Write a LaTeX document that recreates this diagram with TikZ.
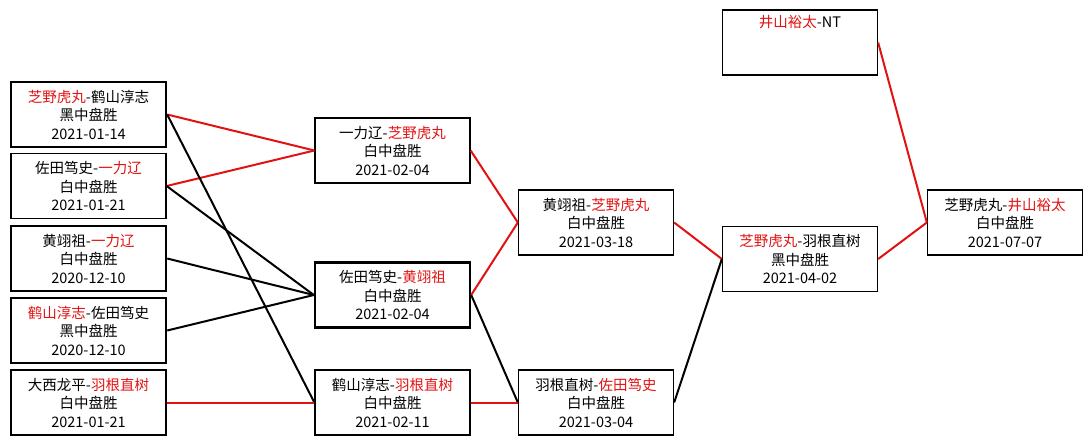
\documentclass[tikz,border=0pt]{standalone}
\usepackage{fontspec}
\setmainfont{Noto Sans CJK SC}
\usepackage{tikz}
\definecolor{winred}{RGB}{226,18,18}
\tikzset{game/.style = {draw, rectangle, minimum width=155pt, minimum height=65pt,
    inner sep=0pt, align=center, font=\fontsize{14.5}{18.5}\selectfont},
  strong/.style = {game, line width=2.4pt},
  plain/.style = {game, line width=1.3pt},
  won/.style = {draw=winred, line width=2pt},
  lost/.style = {draw=black, line width=2pt}}
\newcommand{\rd}[1]{\textcolor{winred}{#1}}

\begin{document}
\begin{tikzpicture}[x=1pt, y=-1pt]
        \useasboundingbox (0,0) rectangle (1092,445);
        % first round
        \node[strong] (ra) at (88.5,114.5) {\rd{芝野虎丸}-鹤山淳志\\黑中盘胜\\2021-01-14};
        \node[plain] (rb) at (88.5,186) {佐田笃史-\rd{一力辽}\\白中盘胜\\2021-01-21};
        \node[strong] (rc) at (88.5,258.5) {黄翊祖-\rd{一力辽}\\白中盘胜\\2020-12-10};
        \node[strong] (rd) at (88.5,330.5) {\rd{鹤山淳志}-佐田笃史\\黑中盘胜\\2020-12-10};
        \node[plain] (re) at (88.5,402.5) {大西龙平-\rd{羽根直树}\\白中盘胜\\2021-01-21};
        % second round
        \node[plain] (sa) at (392.5,150.5) {一力辽-\rd{芝野虎丸}\\白中盘胜\\2021-02-04};
        \node[strong] (sb) at (392.5,295) {佐田笃史-\rd{黄翊祖}\\白中盘胜\\2021-02-04};
        \node[plain] (sc) at (392.5,402.5) {鹤山淳志-\rd{羽根直树}\\白中盘胜\\2021-02-11};
        % third round
        \node[plain] (ta) at (596,222.5) {黄翊祖-\rd{芝野虎丸}\\白中盘胜\\2021-03-18};
        \node[plain] (tb) at (596,402.5) {羽根直树-\rd{佐田笃史}\\白中盘胜\\2021-03-04};
        % final rounds
        \node[plain] (ua) at (800,259) {\rd{芝野虎丸}-羽根直树\\黑中盘胜\\2021-04-02};
        \node[plain] (nt) at (800,42.5) {\rd{井山裕太}-NT\\\strut\\\strut};
        \node[plain] (va) at (1005,222.5) {芝野虎丸-\rd{井山裕太}\\白中盘胜\\2021-07-07};
        % results
        \draw[won] (ra.east) -- (sa.west);
        \draw[won] (rb.east) -- (sa.west);
        \draw[lost] (ra.east) -- (sc.west);
        \draw[lost] (rb.east) -- (sb.west);
        \draw[lost] (rc.east) -- (sb.west);
        \draw[lost] (rd.east) -- (sb.west);
        \draw[won] (re.east) -- (sc.west);
        \draw[won] (sa.east) -- (ta.west);
        \draw[won] (sb.east) -- (ta.west);
        \draw[lost] (sb.east) -- (tb.west);
        \draw[won] (sc.east) -- (tb.west);
        \draw[won] (ta.east) -- (ua.west);
        \draw[lost] (tb.east) -- (ua.west);
        \draw[won] (ua.east) -- (va.west);
        \draw[won] (nt.east) -- (va.west);
      \end{tikzpicture}
\end{document}
